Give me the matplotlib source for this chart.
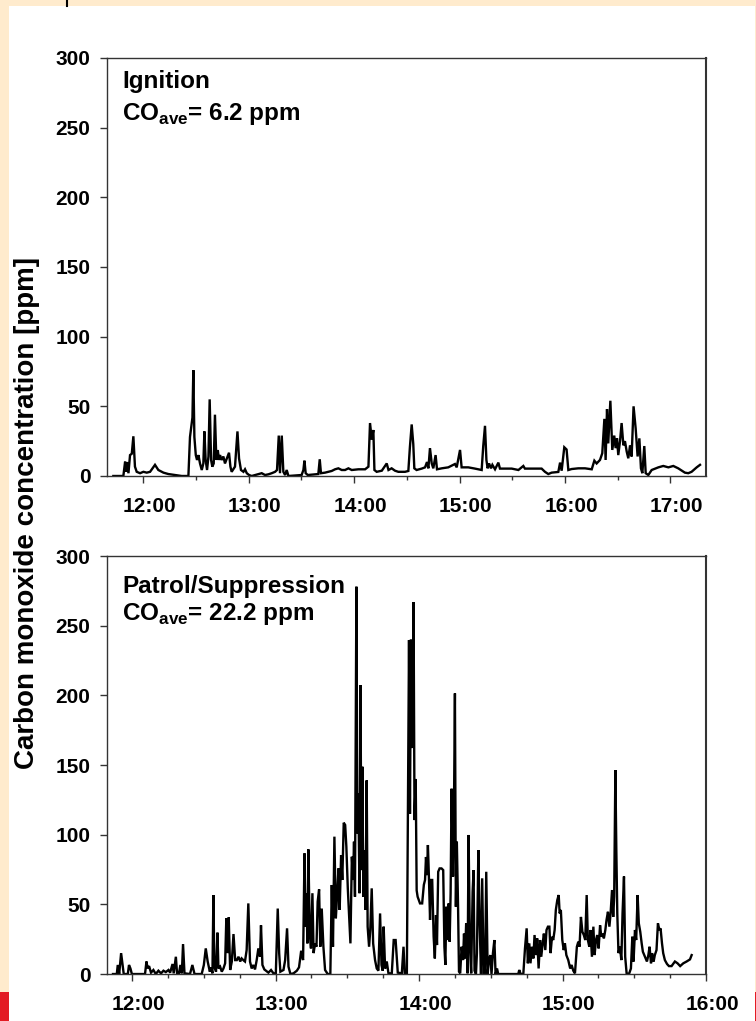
import matplotlib
matplotlib.use("Agg")
import matplotlib.pyplot as plt
from matplotlib.patches import Rectangle
from matplotlib.lines import Line2D
from matplotlib.ticker import MultipleLocator, FuncFormatter
from matplotlib import transforms

plt.rcParams['font.family'] = ['Liberation Sans', 'DejaVu Sans']
plt.rcParams['font.weight'] = 'bold'
plt.rcParams['mathtext.fontset'] = 'custom'
plt.rcParams['mathtext.rm'] = 'Liberation Sans:bold'
plt.rcParams['mathtext.bf'] = 'Liberation Sans:bold'

# time in minutes after midnight, CO in ppm
ign_t = [703.1, 708.8, 709.8, 710.3, 710.9, 711.7, 712.6, 713.6, 714.5, 715.4, 716.4, 718.3,
         720.2, 722.1, 724.0, 726.8, 728.7, 731.6, 734.4, 738.2, 742.0, 745.8, 746.7, 748.1,
         748.6, 749.2, 750.0, 750.7, 751.5, 752.4, 753.4, 754.3, 754.9, 755.6, 756.4, 757.2,
         757.9, 758.7, 759.4, 760.2, 760.9, 761.7, 762.5, 763.2, 763.8, 764.7, 765.7, 766.6,
         767.6, 768.9, 769.7, 770.4, 772.3, 773.7, 774.6, 775.7, 777.1, 778.0, 779.0, 780.3,
         781.8, 787.5, 789.4, 791.3, 793.2, 795.1, 796.2, 797.2, 797.9, 798.9, 799.8, 800.8,
         801.7, 802.7, 810.2, 811.2, 811.8, 812.5, 813.7, 819.7, 820.5, 821.2, 823.5, 827.3,
         829.2, 831.1, 833.0, 834.9, 836.8, 838.7, 842.5, 846.3, 848.2, 849.1, 850.1, 851.0,
         851.6, 852.9, 855.8, 858.6, 859.6, 861.4, 863.3, 865.2, 869.0, 870.9, 871.8, 872.8,
         873.7, 874.3, 875.6, 878.5, 880.4, 881.5, 882.3, 883.2, 884.2, 885.1, 886.4, 887.2,
         889.9, 893.6, 897.4, 898.4, 900.3, 901.2, 905.0, 908.8, 912.6, 913.5, 914.5, 915.3,
         916.0, 916.8, 917.9, 918.7, 920.2, 922.1, 923.0, 925.9, 929.7, 933.5, 936.3, 937.2,
         941.0, 946.7, 948.6, 950.5, 952.4, 956.2, 957.2, 958.1, 959.6, 960.9, 961.9, 963.8,
         967.6, 971.4, 975.2, 976.7, 978.0, 979.9, 981.2, 982.4, 983.1, 983.9, 984.6, 985.8,
         986.9, 988.0, 988.8, 989.6, 990.3, 991.3, 992.2, 993.2, 994.1, 995.1, 996.0, 997.0,
         997.9, 999.0, 1000.2, 1001.3, 1002.3, 1003.2, 1004.0, 1005.1, 1005.9, 1007.4, 1009.3,
         1013.1, 1015.9, 1018.8, 1021.6, 1024.4, 1028.2, 1030.1, 1032.0, 1034.9, 1036.8]
ign_co = [0, 0, 10.3, 3, 10, 2, 15, 16, 28.5, 6.7, 3, 2,
          3, 2.4, 3, 8, 4.3, 2.4, 1.4, 0.7, 0, 0, 28, 42,
          76, 28, 15, 11.5, 15, 9, 4.3, 9, 32, 11.5, 4.3, 14,
          55, 11.5, 6.7, 9, 44, 11.5, 18.6, 11.5, 15, 11.5, 14, 9,
          12.4, 16.7, 6.7, 3, 6.7, 32, 12.6, 4.3, 3, 4.8, 2, 0.7,
          0, 2, 0.7, 1.2, 2, 3, 4.3, 29, 2, 29, 3, 0.7,
          4.3, 0, 0.7, 4.3, 11, 2, 0.7, 1.4, 12, 2, 2.4, 3.6,
          4.8, 5.5, 4.3, 4.3, 5.5, 4.3, 4.8, 4.8, 6.7, 38, 26, 33,
          4.3, 3, 3.8, 9, 4.3, 5.5, 3.8, 3, 3, 3.6, 21, 37,
          23, 5.5, 4.3, 5.3, 6.2, 10, 5.5, 20, 9, 5.5, 15, 4.8,
          5.5, 6.2, 8.6, 6.2, 18.7, 6.2, 6.2, 5.3, 4.3, 21.5, 36, 11.5,
          5.5, 9, 5.5, 8, 4.8, 9.6, 5.3, 5.3, 5.3, 4.3, 7.2, 5.3,
          5.3, 5.3, 3, 1.4, 2.4, 2.9, 9.6, 3.8, 20.6, 19, 4.3, 5,
          5.5, 5.5, 4.8, 11, 9, 11.5, 16.3, 41, 11.5, 48, 23.4, 54,
          18.7, 29, 20, 27, 15, 25, 38, 22, 25, 17.5, 12.7, 22,
          14, 50, 34, 14, 27, 5.5, 2, 21.5, 2, 0.7, 4.3,
          6.2, 7.2, 6.2, 7.2, 5.5, 2.4, 2, 3, 6.2, 8]

sup_t = [712.0, 713.6, 714.0, 714.6, 715.4, 716.0, 716.5, 718.2, 718.7, 719.3, 719.9, 725.4,
         726.0, 726.5, 727.1, 727.9, 728.9, 729.9, 731.0, 732.1, 733.1, 734.1, 735.2, 735.9,
         736.9, 737.4, 738.3, 738.8, 739.6, 740.2, 740.8, 741.3, 741.9, 744.2, 745.2, 746.1,
         749.1, 750.0, 750.8, 751.6, 752.5, 753.0, 753.6, 754.0, 754.4, 755.1, 755.7, 756.1,
         756.8, 757.5, 758.2, 758.9, 759.4, 760.0, 760.4, 761.0, 761.7, 762.4, 763.1, 763.8,
         764.5, 765.2, 765.8, 766.5, 767.2, 767.9, 768.6, 769.3, 770.0, 770.7, 771.4, 772.1,
         772.8, 773.5, 773.9, 774.5, 775.3, 777.0, 778.1, 779.1, 780.1, 780.9, 781.5, 782.0,
         783.3, 784.0, 784.8, 785.4, 786.2, 787.5, 788.9, 789.8, 790.7, 791.5, 792.1, 792.5,
         792.9, 793.3, 793.7, 794.3, 794.8, 795.4, 795.9, 796.5, 797.1, 797.6, 798.2, 798.7,
         799.3, 800.0, 800.7, 801.8, 802.9, 803.5, 804.0, 804.6, 805.2, 805.7, 806.3, 806.8,
         807.4, 807.9, 808.5, 809.1, 809.6, 810.2, 810.7, 811.3, 811.9, 812.4, 812.8, 813.2,
         813.8, 814.2, 814.6, 815.1, 815.5, 815.9, 816.3, 816.7, 817.1, 817.6, 818.1, 818.5,
         819.1, 819.6, 820.2, 820.8, 821.6, 822.3, 823.0, 823.7, 824.3, 824.8, 825.2, 825.8,
         826.5, 827.2, 828.6, 829.4, 830.2, 831.1, 832.8, 833.5, 834.0, 834.9, 835.8, 836.2,
         836.6, 836.9, 837.4, 837.7, 838.1, 838.6, 839.0, 839.4, 840.4, 841.3, 842.0, 842.5,
         842.9, 843.3, 843.7, 844.1, 844.6, 845.0, 845.5, 846.1, 846.6, 847.1, 847.5, 848.0,
         848.6, 849.4, 850.1, 850.6, 851.0, 851.4, 851.9, 852.4, 852.8, 853.2, 853.6, 854.2,
         854.6, 855.0, 855.4, 855.8, 856.3, 856.7, 857.2, 857.8, 858.4, 858.8, 859.2, 859.7,
         860.3, 860.7, 861.3, 861.8, 862.4, 862.8, 863.2, 863.8, 864.2, 864.8, 865.3, 865.9,
         866.4, 867.0, 867.6, 868.1, 868.7, 869.2, 869.8, 870.3, 870.9, 871.5, 872.0, 872.6,
         873.1, 874.5, 881.5, 881.9, 882.5, 883.6, 884.3, 885.0, 885.5, 886.1, 886.6, 887.2,
         887.8, 888.3, 888.9, 889.4, 890.0, 890.6, 891.1, 891.7, 892.2, 892.8, 893.3, 893.9,
         894.5, 895.0, 895.6, 896.1, 896.7, 897.2, 897.8, 898.4, 898.8, 899.3, 899.9, 900.5,
         901.0, 901.6, 902.4, 903.2, 903.8, 904.5, 905.2, 906.0, 906.6, 907.1, 907.7, 908.3,
         908.9, 909.5, 910.1, 910.6, 911.2, 911.7, 912.3, 912.9, 913.4, 914.0, 914.5, 915.1,
         915.7, 916.2, 916.8, 917.3, 917.9, 918.4, 919.0, 919.6, 920.1, 920.7, 921.2, 921.6,
         922.1, 922.5, 922.9, 923.4, 924.0, 924.6, 925.1, 925.7, 926.2, 926.8, 927.8, 928.6,
         929.2, 929.7, 930.3, 930.8, 931.4, 931.9, 932.5, 933.1, 933.6, 934.5, 935.3, 935.9,
         936.4, 937.0, 937.5, 938.1, 938.6, 939.3, 939.9, 940.5, 941.0, 941.6, 942.1, 942.8,
         943.7, 944.5, 945.6, 947.0, 948.1, 949.2, 950.5, 951.9, 953.3, 954.0]
sup_co = [0, 0, 6.5, 0, 15, 6.5, 0, 0, 6.5, 4, 0, 0,
          9, 4, 5.7, 1, 2.9, 0, 2.4, 0.5, 2.4, 1.4, 2.9, 1,
          7.2, 0.5, 12.4, 0.5, 0.5, 6.5, 0.5, 21.5, 0.5, 0, 6.5, 0,
          0, 6.5, 18.4, 9, 1.7, 4.8, 0.5, 56.7, 5.3, 1.7, 29.7, 4,
          5.3, 1.7, 4, 7.7, 40, 15, 40.7, 2.9, 9, 28.7, 10, 10,
          12.4, 9, 11.2, 10, 9, 17.2, 50.7, 9, 4, 6.5, 3.3, 10,
          18.4, 12.4, 35, 6.5, 3.3, 1, 2.9, 0.5, 0.5, 47, 15, 1.7,
          2.9, 10, 32.8, 5.3, 0, 0.5, 2.4, 4.8, 16.7, 10, 86.6, 34,
          58, 22, 89.5, 29, 18.4, 58, 15, 22, 19.6, 52, 60.8, 19.6,
          47, 19.6, 2.9, 0, 0, 63.9, 19.6, 98.6, 40, 55.5, 75.8, 46,
          85.4, 67.5, 108.6, 107, 91.4, 61.5, 43.5, 22, 84.2, 67.5, 95, 55.5,
          278, 101, 129.7, 58, 207.4, 74.6, 148.8, 55.5, 89, 46, 139, 34,
          19.6, 31.6, 61.5, 22, 10, 4, 2.4, 43.5, 6.5, 2.4, 34, 4,
          9, 0.5, 0.5, 24.4, 24.4, 1, 0.5, 19.6, 0.5, 0, 239.7, 115,
          240, 163, 163, 267, 110.5, 140, 60, 55.5, 50.7, 50.7, 64, 67.5,
          84, 71, 92.6, 71, 38.8, 67.5, 67.5, 26.8, 11.2, 42.3, 20.8, 73.4,
          75.8, 75.8, 74.6, 19.6, 6.5, 48.3, 24.4, 50.7, 23.2, 57.9, 133, 70,
          117.7, 201.4, 48.3, 95, 49.5, 1.7, 0.5, 19.6, 10, 29, 11.2, 36.4,
          0.5, 99.8, 18.4, 0.5, 59, 74.6, 2.4, 0, 15, 89, 38.8, 0,
          68.7, 0, 0, 73.4, 0, 10, 13.6, 0, 15, 24.4, 0, 4,
          0, 0, 0, 2.9, 0, 0, 18.4, 32.8, 7.7, 22, 7.7, 19.6,
          11.2, 28, 13.6, 25.6, 4, 24.4, 12.4, 22, 29, 17.2, 31.6, 34,
          34, 15, 26.8, 24.4, 31.6, 46, 53, 56.7, 43.5, 46, 24.4, 17.2,
          22, 13.6, 10, 4, 6.5, 2.4, 0.5, 19.6, 23.2, 19.6, 41, 30.4,
          28, 24.4, 56.7, 24.4, 19.6, 31.6, 12.4, 34, 13.6, 24.4, 28, 18.4,
          35, 26.8, 29, 25.6, 31.6, 38.8, 44.7, 34, 43.5, 60.3, 41, 55.5,
          146.4, 89, 43.5, 15, 19.6, 10, 43.5, 70, 12.4, 0.5, 0, 4,
          26.8, 9, 31.6, 24.4, 56.7, 36.4, 30.4, 22, 16, 12.4, 9, 13.6,
          19.6, 7.7, 15, 9, 13.6, 17.2, 36.4, 31.6, 32.8, 22, 15, 10,
          7.2, 5.7, 5.7, 9, 7.7, 5.7, 7.7, 9, 10.5, 13.6]

panels = [
    dict(t=ign_t, co=ign_co, xlim=(699.5, 1040.2), minor=30, name='Ignition',
         ave='6.2', bottom=0.5338, y1=0.972, y2=0.898),
    dict(t=sup_t, co=sup_co, xlim=(709.5, 960.0), minor=15, name='Patrol/Suppression',
         ave='22.2', bottom=0.0460, y1=0.955, y2=0.893),
]

W, H = 756, 1021
fig = plt.figure(figsize=(W / 100, H / 100), dpi=100, facecolor='#FFEBCD')
fig.patches.append(Rectangle((9 / W, 0), 746 / W, 1 - 6 / H, transform=fig.transFigure,
                             facecolor='white', edgecolor='none', zorder=-2))
fig.patches.append(Rectangle((0, 0), 9 / W, 29 / H, transform=fig.transFigure,
                             facecolor='#E31B23', edgecolor='none', zorder=-1))
fig.patches.append(Rectangle((755 / W, 0), 1 / W, 29 / H, transform=fig.transFigure,
                             facecolor='#E31B23', edgecolor='none', zorder=-1))
fig.lines.append(Line2D([67 / W, 67 / W], [1, 1 - 6 / H], transform=fig.transFigure,
                        color='black', lw=1.5, zorder=-1))

fmt = FuncFormatter(lambda m, pos: f"{int(round(m)) // 60}:{int(round(m)) % 60:02d}")
shift = transforms.ScaledTranslation(0.06, 0, fig.dpi_scale_trans)

for p in panels:
    ax = fig.add_axes([107 / W, p['bottom'], 599 / W, 418 / H])
    ax.set_zorder(2)
    ax.plot(p['t'], p['co'], color='black', lw=1.7, solid_joinstyle='miter', clip_on=True)
    ax.set_xlim(*p['xlim'])
    ax.set_ylim(0, 300)
    ax.xaxis.set_major_locator(MultipleLocator(60))
    ax.xaxis.set_minor_locator(MultipleLocator(p['minor']))
    ax.xaxis.set_major_formatter(fmt)
    ax.yaxis.set_major_locator(MultipleLocator(50))
    for s in ax.spines.values():
        s.set_color('#333333')
        s.set_linewidth(1.0)
    ax.spines['right'].set_linewidth(1.5)
    ax.tick_params(axis='both', which='major', direction='out', length=5, width=1,
                   color='#333333', labelsize=15)
    ax.tick_params(axis='x', which='major', pad=10)
    ax.tick_params(axis='y', which='major', pad=7)
    ax.tick_params(axis='x', which='minor', direction='out', length=3, width=1, color='#333333')
    for lab in ax.get_xticklabels() + ax.get_yticklabels():
        lab.set_fontweight('bold')
    for lab in ax.get_xticklabels():
        lab.set_transform(lab.get_transform() + shift)
    ax.text(0.025, p['y1'], p['name'], transform=ax.transAxes, fontsize=17.5,
            fontweight='bold', va='top', ha='left')
    ax.text(0.025, p['y2'], r'CO$_{\mathbf{ave}}$= ' + p['ave'] + ' ppm', transform=ax.transAxes,
            fontsize=17.5, fontweight='bold', va='top', ha='left')

fig.text(27 / W, 1 - 513 / H, 'Carbon monoxide concentration [ppm]', rotation=90,
         ha='center', va='center', fontsize=20, fontweight='bold')

fig.savefig('out.png', dpi=100, facecolor=fig.get_facecolor())
